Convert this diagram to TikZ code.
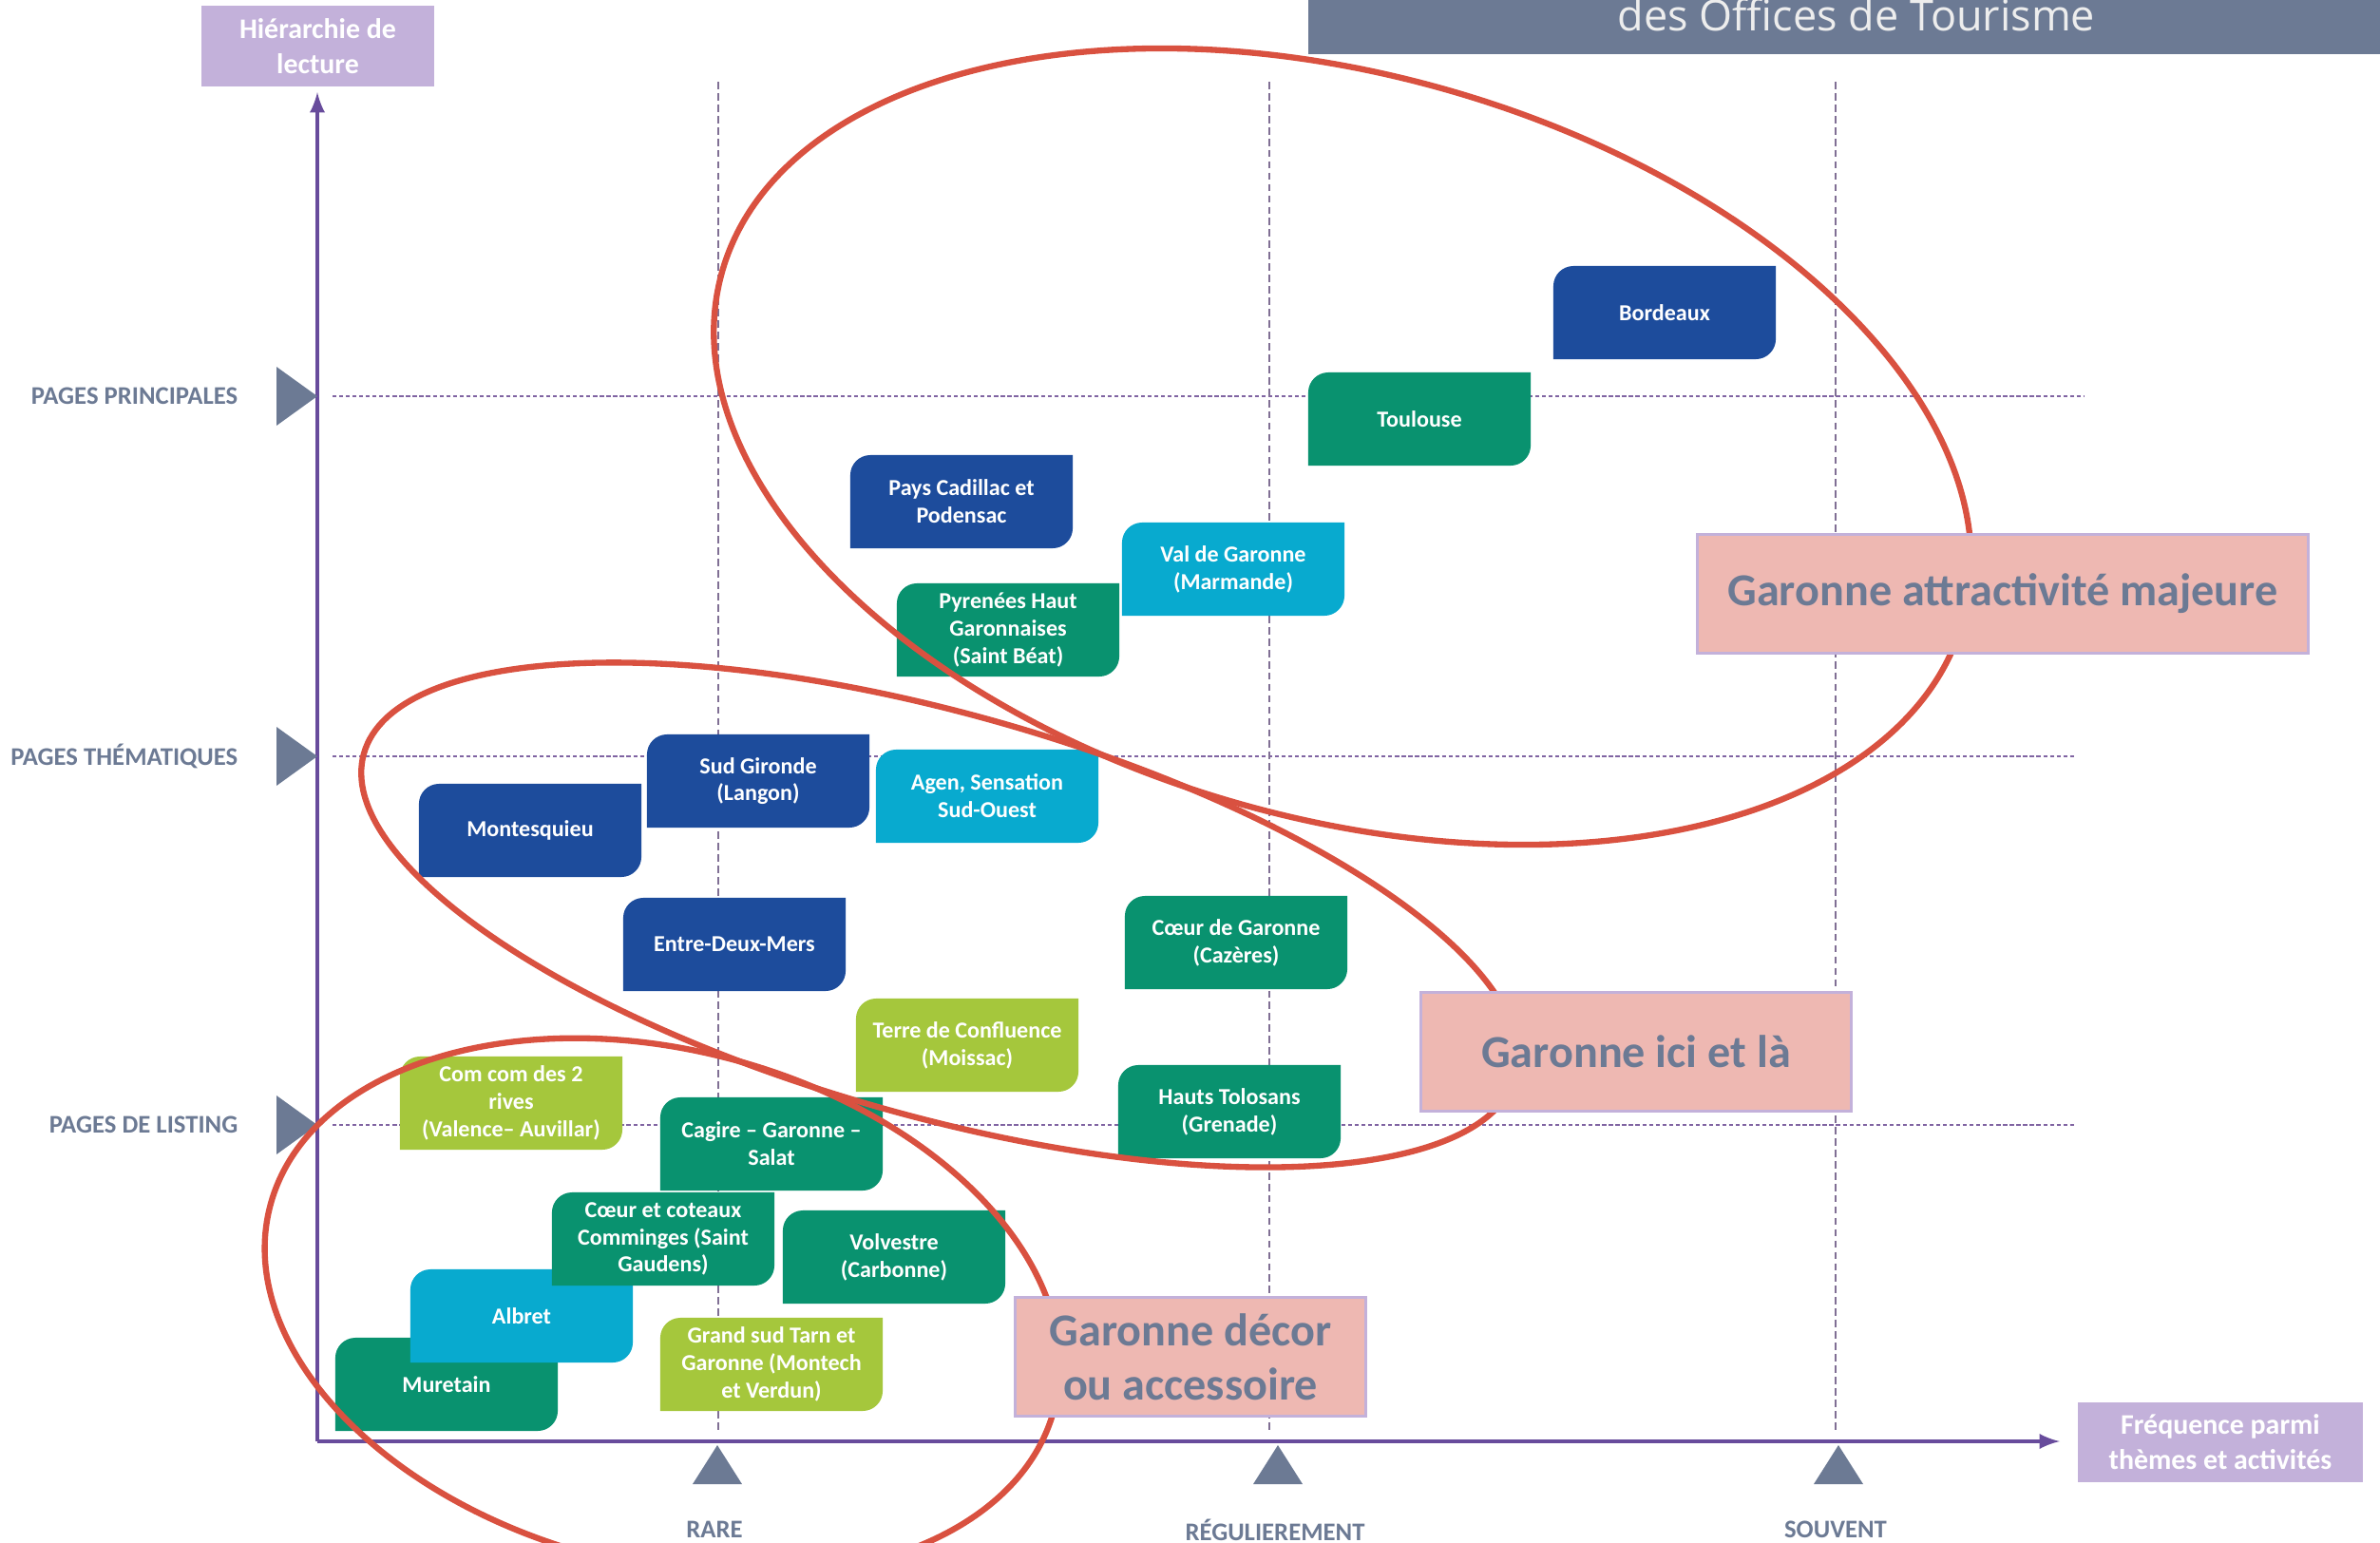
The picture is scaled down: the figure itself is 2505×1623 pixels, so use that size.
\documentclass[tikz,border=0pt]{standalone}
\usepackage{fontspec}
\setmainfont{Carlito}
\newfontfamily\titlefont{Open Sans}
\usetikzlibrary{positioning}

\definecolor{slate}{RGB}{108,122,148}
\definecolor{lavender}{RGB}{195,177,218}
\definecolor{axisviolet}{RGB}{104,76,156}
\definecolor{gridviolet}{RGB}{128,100,162}
\definecolor{ringred}{RGB}{217,81,64}
\definecolor{salmon}{RGB}{238,184,178}
\definecolor{otblue}{RGB}{29,76,156}
\definecolor{otgreen}{RGB}{9,146,111}
\definecolor{otcyan}{RGB}{8,170,207}
\definecolor{otlime}{RGB}{165,199,60}

\tikzset{office/.style={text=white, align=center, inner sep=0pt,
            minimum width=2.34cm, minimum height=0.98cm,
            font=\fontsize{6.85}{8.2}\selectfont\bfseries,
            path picture={\fill[#1] (path picture bounding box.south west)
              -- ([yshift=-6pt]path picture bounding box.north west)
              arc[start angle=180,end angle=90,radius=6pt]
              -- (path picture bounding box.north east)
              -- ([yshift=6pt]path picture bounding box.south east)
              arc[start angle=0,end angle=-90,radius=6pt] -- cycle;}},
         theme/.style={fill=salmon, draw=lavender, line width=0.9pt, text=slate,
            align=center, inner sep=0pt, minimum height=1.25cm,
            font=\fontsize{13.7}{16.2}\selectfont\bfseries},
         axisbox/.style={fill=lavender, text=white, align=center, inner sep=0pt,
            font=\fontsize{8.5}{10.6}\selectfont\bfseries},
         level/.style={text=slate, inner sep=0pt, font=\fontsize{7.6}{9}\selectfont\bfseries},
         ring/.style={draw=ringred, line width=1.8pt},
         hgrid/.style={gridviolet, line width=0.6pt, dash pattern=on 1.2pt off 0.8pt},
         vgrid/.style={gridviolet!60!gray, line width=0.45pt, dash pattern=on 2.2pt off 1.2pt}}

\begin{document}
\begin{tikzpicture}[x=0.01cm, y=-0.01cm]
  \useasboundingbox (0,0) rectangle (2505,1623);
  \clip (0,0) rectangle (2505,1623);
  % bandeau du titre
  \fill[slate] (1377,-20) rectangle (2505,57);
  \node[anchor=base, text=white!93!black, font=\titlefont\fontsize{12.8}{15}\selectfont]
    (title) at (1954,32) {des Offices de Tourisme};
  % grille
  \foreach \y/\x in {417/2193, 796/2185, 1184/2184}
    \draw[hgrid] (350,\y) -- (\x,\y);
  \foreach \x in {756,1336,1932}
    \draw[vgrid] (\x,86) -- (\x,1507);
  % axes
  \coordinate (o) at (334,1517);
  \coordinate (ytop) at (334,97);
  \coordinate (xend) at (2168,1517);
  \draw[axisviolet, line width=1.1pt, -latex] (o) -- (ytop);
  \draw[axisviolet, line width=1.1pt, -latex] (o) -- (xend);
  \node[axisbox, minimum width=2.45cm, minimum height=0.85cm] (hier) at (334.5,48.5)
    {Hiérarchie de\\lecture};
  \node[axisbox, minimum width=3cm, minimum height=0.84cm] (freq) at (2337,1517.5)
    {Fréquence parmi\\thèmes et activités};
  \foreach \y/\t/\n in {417/PAGES PRINCIPALES/princ, 796/PAGES THÉMATIQUES/them,
                        1184/PAGES DE LISTING/listing} {
    \fill[slate] (291,\y-31) -- (334,\y) -- (291,\y+31) -- cycle;
    \node[level, anchor=east] (\n) at (251,\y) {\t};
  }
  \foreach \x/\t/\n in {755/RARE/rare, 1345/RÉGULIEREMENT/regul, 1935/SOUVENT/souvent} {
    \fill[slate] (\x-26,1562) -- (\x,1521) -- (\x+26,1562) -- cycle;
    \node[level] (\n) at (\x-3,1610) {\t};
  }
  % offices de tourisme
  \node[office=otblue] (bordeaux) at (1752,329) {Bordeaux};
  \node[office=otgreen] (toulouse) at (1494,441) {Toulouse};
  \node[office=otblue] (cadillac) at (1012,528) {Pays Cadillac et\\Podensac};
  \node[office=otcyan] (marmande) at (1298,599) {Val de Garonne\\(Marmande)};
  \node[office=otgreen] (pyrenees) at (1061,663) {Pyrenées Haut\\Garonnaises\\(Saint Béat)};
  \node[office=otblue] (sudgironde) at (798,822) {Sud Gironde\\(Langon)};
  \node[office=otcyan] (agen) at (1039,838) {Agen, Sensation\\Sud-Ouest};
  \node[office=otblue] (montesquieu) at (558,874) {Montesquieu};
  \node[office=otblue] (entredeux) at (773,994) {Entre-Deux-Mers};
  \node[office=otgreen] (cazeres) at (1301,992) {Cœur de Garonne\\(Cazères)};
  \node[office=otlime] (moissac) at (1018,1100) {Terre de Confluence\\(Moissac)};
  \node[office=otgreen] (grenade) at (1294,1170) {Hauts Tolosans\\(Grenade)};
  \node[office=otlime] (deuxrives) at (538,1161) {Com com des 2\\rives\\(Valence– Auvillar)};
  \node[office=otgreen] (cagire) at (812,1204) {Cagire – Garonne –\\Salat};
  \node[office=otgreen] (volvestre) at (941,1323) {Volvestre\\(Carbonne)};
  \node[office=otgreen] (muretain) at (470,1457) {Muretain};
  \node[office=otcyan] (albret) at (549,1385) {Albret};
  \node[office=otgreen] (comminges) at (698,1304) {Cœur et coteaux\\Comminges (Saint\\Gaudens)};
  \node[office=otlime] (grandsud) at (812,1436) {Grand sud Tarn et\\Garonne (Montech\\et Verdun)};
  % regroupements
  \coordinate (c1) at (1413,470);
  \coordinate (c2) at (989,963);
  \coordinate (c3) at (697,1376);
  \draw[ring, rotate around={-15.7:(c1)}] (c1) ellipse [x radius=6.78cm, y radius=3.91cm];
  \draw[ring, rotate around={-15.65:(c2)}] (c2) ellipse [x radius=6.29cm, y radius=2.12cm];
  \draw[ring, rotate around={-14.4:(c3)}] (c3) ellipse [x radius=4.26cm, y radius=2.71cm];
  \node[theme, minimum width=6.43cm] (majeure) at (2108,625) {Garonne attractivité majeure};
  \node[theme, minimum width=4.52cm] (icila) at (1722,1107) {Garonne ici et là};
  \node[theme, minimum width=3.69cm] (decor) at (1253,1428) {Garonne décor\\ou accessoire};
\end{tikzpicture}
\end{document}
